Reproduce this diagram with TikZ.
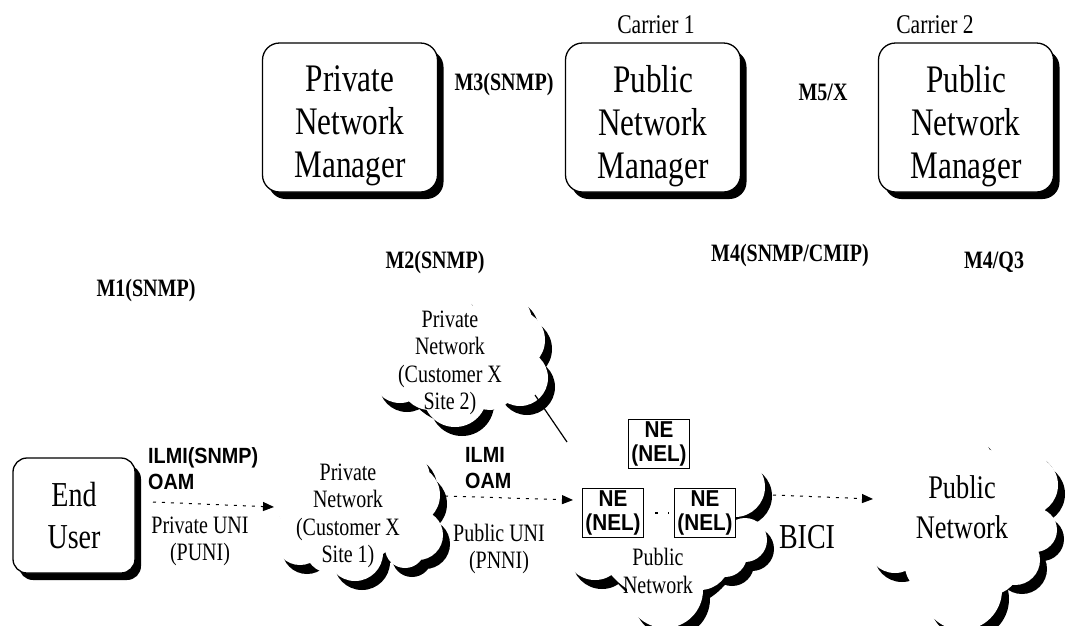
\documentclass[tikz,border=0pt]{standalone}
\usepackage{fontspec}
\setmainfont{Liberation Serif}[FakeStretch=0.8]
\newfontfamily\lblsans{Liberation Sans}[FakeStretch=0.9]
\usetikzlibrary{arrows.meta,shadows}
\newcommand\mycloud[2]{%
  \fill[cloudshadow] \foreach \cx/\cy/\r in {#1} {(\cx+7,\cy+9) circle[radius=\r]};
  \fill[cloudbody] \foreach \cx/\cy/\r in {#1,#2} {(\cx,\cy) circle[radius=\r]};}
\begin{document}
\begin{tikzpicture}[x=1pt,y=-1pt,
  mgr/.style={draw,line width=1.3pt,rounded corners=17pt,fill=white,
    minimum width=175pt,minimum height=149pt,inner sep=0pt,
    drop shadow={shadow xshift=6pt,shadow yshift=-7pt,opacity=1,fill=black}},
  mgrtext/.style={inner sep=0pt,align=center,font=\fontsize{39}{43}\selectfont},
  userbox/.style={mgr,minimum width=122pt,minimum height=115pt,rounded corners=14pt,
    align=center,font=\fontsize{35}{42}\selectfont},
  nebox/.style={draw,line width=1.3pt,fill=white,minimum width=61pt,minimum height=49pt,
    align=center,inner sep=0pt,font=\lblsans\bfseries\fontsize{23}{24}\selectfont},
  mlabel/.style={inner sep=0pt,font=\bfseries\fontsize{25}{28}\selectfont},
  carrier/.style={inner sep=0pt,font=\fontsize{27}{30}\selectfont},
  cloudtext/.style={inner sep=0pt,align=center,font=\fontsize{25}{27.5}\selectfont},
  ifacetext/.style={inner sep=0pt,align=center,font=\fontsize{25}{27}\selectfont},
  protolbl/.style={inner sep=0pt,anchor=west,align=left,font=\lblsans\bfseries\fontsize{22}{25}\selectfont},
  dotline/.style={line width=1pt,dash pattern=on 3pt off 6pt,
    -{Triangle[length=11pt,width=9pt]}},
  cloudshadow/.style={fill=black},
  cloudbody/.style={fill=white}]
\useasboundingbox (0,0) rectangle (1074,625);

% ---------- managers ----------
\node[mgr] (pnm) at (350,117.5) {};
\node[mgr] (c1m) at (653,117.5) {};
\node[mgr] (c2m) at (966,117.5) {};
\node[mgrtext] (pnmt) at (350,126) {Private\\Network\\Manager};
\node[mgrtext] (c1mt) at (653,126) {Public\\Network\\Manager};
\node[mgrtext] (c2mt) at (966,126) {Public\\Network\\Manager};
\node[carrier] (c1lbl) at (656,25) {Carrier 1};
\node[carrier] (c2lbl) at (935,25) {Carrier 2};

\node[mlabel] (m3) at (504,84) {M3(SNMP)};
\node[mlabel] (m5) at (823,92) {M5/X};
\node[mlabel] (m2) at (435,262) {M2(SNMP)};
\node[mlabel] (m1) at (146,290) {M1(SNMP)};
\node[mlabel] (m4) at (790,255) {M4(SNMP/CMIP)};
\node[mlabel] (m4q) at (994,262) {M4/Q3};

% ---------- clouds ----------
\mycloud{450/360/55, 400/335/30, 445/318/30, 500/322/32, 515/340/30,
  520/378/28, 400/375/28, 455/395/32, 480/360/40}{430/380/30, 490/385/25}
\mycloud{350/510/55, 300/495/30, 345/470/30, 400/478/30, 410/495/30,
  418/535/25, 300/540/25, 355/553/28, 405/548/20}{375/485/30, 330/548/25, 310/515/30}
\mycloud{665/530/70, 600/505/32, 595/550/30, 640/480/30, 705/480/35,
  735/487/30, 745/540/22, 665/590/38, 725/555/22}{620/530/35, 700/560/30}
\mycloud{965/515/70, 905/490/32, 895/545/28, 960/462/32, 1020/475/30,
  1028/485/30, 1035/530/22, 962/590/40, 1015/560/25}{915/520/35, 935/565/30, 990/565/30, 1010/510/35}

\node[cloudtext] (site2) at (450,363) {Private\\Network\\(Customer X\\Site 2)};
\node[cloudtext] (site1) at (348,516) {Private\\Network\\(Customer X\\Site 1)};
\node[cloudtext] (pub1) at (658,571) {Public\\Network};
\node[inner sep=0pt,align=center,font=\fontsize{33}{40}\selectfont] (pub2) at (962,507) {Public\\Network};

% ---------- NEs ----------
\node[nebox] (ne1) at (659,444) {NE\\(NEL)};
\node[nebox] (ne2) at (613,513) {NE\\(NEL)};
\node[nebox] (ne3) at (705,513) {NE\\(NEL)};
\draw[line width=1.2pt,dash pattern=on 3pt off 10pt,shorten <=11pt,shorten >=5pt] (ne2.east) -- (ne3.west);

% ---------- end user ----------
\node[userbox] (eu) at (74,515.5) {End\\User};

% ---------- interface labels ----------
\node[protolbl] (ilmi1) at (148,458) {ILMI(SNMP)};
\node[protolbl] (oam1) at (148,482) {OAM};
\node[ifacetext] (puni) at (200,541) {Private UNI\\(PUNI)};
\node[protolbl] (ilmi2) at (465,455) {ILMI};
\node[protolbl] (oam2) at (465,481) {OAM};
\node[ifacetext] (pnni) at (499,549) {Public UNI\\(PNNI)};
\node[inner sep=0pt,font=\fontsize{35}{40}\selectfont] (bici) at (807,537) {BICI};

% ---------- connectors ----------
\coordinate (euout) at (153,502);
\coordinate (s1in) at (274,507);
\coordinate (s1out) at (445,496);
\coordinate (p1in) at (573,500);
\coordinate (p1out) at (773,495);
\coordinate (p2in) at (873,499);
\coordinate (s2low) at (535,395);
\coordinate (p1top) at (567,442);
\draw[dotline] (euout) -- (s1in);
\draw[dotline] (s1out) -- (p1in);
\draw[dotline] (p1out) -- (p2in);
\draw[line width=1.2pt] (s2low) -- (p1top);
\end{tikzpicture}
\end{document}
